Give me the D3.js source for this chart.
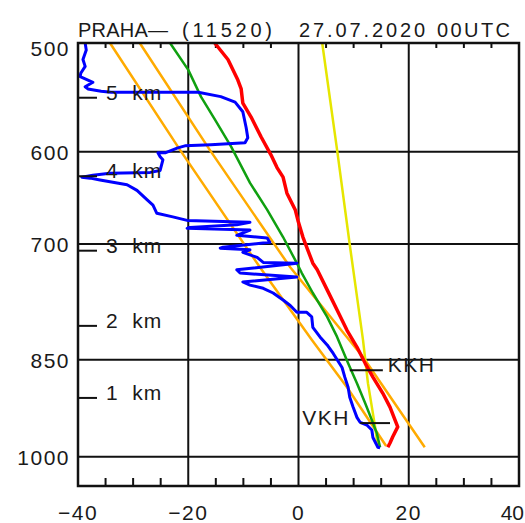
<!DOCTYPE html>
<html>
<head>
<meta charset="utf-8">
<script src="https://cdn.jsdelivr.net/npm/d3@7"></script>
<style>
  html, body { margin: 0; padding: 0; background: #ffffff; }
  svg text { font-family: "Liberation Sans", Arial, sans-serif; fill: #1a1a1a; white-space: pre; }
</style>
</head>
<body>
<svg id="chart" width="525" height="523"></svg>
<script>
// Sounding PRAHA (11520), 27.07.2020 00UTC — pressure (hPa) vs temperature (°C)

const pressureTicks = [500, 600, 700, 850, 1000];
const tempTicks = [-40, -20, 0, 20, 40];
const minorTempTicks = [-35, -30, -25, -15, -10, -5, 5, 10, 15, 25, 30, 35];

// height markers: label and pressure level
const heightLabels = ["1  km", "2  km", "3  km", "4  km", "5  km"];
const heightPressures = [906, 803, 708, 625, 548];

// temperature profile
const tempP = [500, 514, 532, 540, 553, 566, 585, 603, 616, 626, 643, 661, 673, 692, 704, 723, 731, 756, 782, 809, 832, 855, 875, 899, 920, 940, 951, 967, 977, 984];
const tempT = [-15.2, -12.8, -11.0, -10.4, -10.1, -8.6, -6.8, -5.0, -3.9, -2.8, -2.1, -0.6, -0.1, 0.8, 1.5, 2.6, 3.4, 5.2, 7.0, 8.8, 10.6, 12.1, 13.5, 15.3, 16.6, 17.5, 18.0, 17.1, 16.6, 16.2];

// dew point profile
const dewP = [500, 506, 514, 520, 526, 529, 532, 534, 538, 540, 542, 543, 543, 547, 552, 561, 576, 586, 591, 593, 594, 596, 601, 601, 605, 608, 619, 621, 622, 624, 626, 627, 629, 634, 640, 650, 656, 665, 669, 673, 675, 678, 681, 682, 684, 690, 693, 698, 704, 705, 707, 710, 716, 722, 723, 731, 735, 740, 746, 750, 754, 760, 769, 776, 785, 785, 791, 805, 818, 829, 841, 861, 875, 890, 905, 920, 936, 944, 948, 956, 968, 984, 985];
const dewT = [-38.7, -38.5, -39.1, -38.7, -39.5, -39.6, -38.2, -37.3, -38.7, -38.2, -35.8, -34.0, -18.2, -14.1, -11.5, -10.1, -9.5, -9.2, -9.7, -15.9, -20.6, -21.9, -24.2, -25.5, -25.1, -24.6, -25.1, -26.9, -34.2, -37.3, -39.3, -37.8, -36.0, -31.1, -29.3, -27.5, -26.4, -25.7, -22.8, -20.2, -8.8, -11.2, -19.7, -20.2, -8.8, -11.2, -5.7, -5.2, -13.7, -14.2, -8.8, -10.1, -7.5, -6.4, -0.3, -11.2, -10.6, -0.3, -10.1, -8.8, -6.4, -4.6, -2.8, -1.5, -0.3, 1.5, 2.4, 2.6, 3.9, 5.2, 6.3, 7.9, 8.4, 9.0, 9.3, 9.9, 10.6, 11.2, 12.4, 13.3, 13.5, 14.4, 14.8];

// moist (pseudo) adiabat from the surface
const moistP = [500, 523, 547, 569, 595, 632, 661, 692, 723, 735, 760, 791, 818, 855, 884, 914, 940, 961, 984];
const moistT = [-23.3, -20.0, -17.7, -15.1, -12.2, -8.8, -5.7, -2.8, -0.3, 0.6, 2.6, 5.2, 7.0, 9.0, 10.6, 12.1, 13.3, 14.2, 14.8];

// dry adiabats
const dry1P = [500, 598, 728, 822, 890, 982];
const dry1T = [-34.2, -21.5, -7.0, 2.4, 8.8, 15.9];
const dry2P = [500, 598, 728, 846, 984];
const dry2T = [-28.8, -16.1, -1.5, 11.7, 22.9];

// mixing ratio line
const mixP = [500, 598, 701, 822, 884, 951, 984];
const mixT = [4.3, 7.0, 9.3, 11.7, 12.6, 13.9, 14.4];

// condensation levels: label, pressure, temperature span
const levelNames = ["KKH", "VKH"];
const levelP = [865, 945];
const levelT0 = [9.3, 11.2];
const levelT1 = [15.3, 16.6];

const svg = d3.select("#chart");
const plotLeft = 78, plotRight = 519, plotTop = 43, plotBottom = 486;

const x = d3.scaleLinear().domain([-40, 40]).range([plotLeft, plotRight]);
const y = d3.scaleLog().domain([500, 1050]).range([plotTop, plotBottom]);

const zip = (ps, ts) => ps.map((p, i) => ({ p, t: ts[i] }));
const line = d3.line().x(d => x(d.t)).y(d => y(d.p));

const gridColor = "#111";

// grid
const grid = svg.append("g").attr("stroke", gridColor).attr("stroke-width", 2);
grid.selectAll("line.v").data(tempTicks.filter(t => t > -40 && t < 40)).join("line")
  .attr("class", "v")
  .attr("x1", d => x(d)).attr("x2", d => x(d)).attr("y1", plotTop).attr("y2", plotBottom);
grid.selectAll("line.h").data(pressureTicks.filter(p => p > 500)).join("line")
  .attr("class", "h")
  .attr("x1", plotLeft).attr("x2", plotRight).attr("y1", d => y(d)).attr("y2", d => y(d));

// minor temperature ticks along top and bottom
const minor = svg.append("g").attr("stroke", gridColor).attr("stroke-width", 2);
minor.selectAll("line.b").data(minorTempTicks).join("line")
  .attr("class", "b")
  .attr("x1", d => x(d)).attr("x2", d => x(d)).attr("y1", plotBottom).attr("y2", plotBottom - 8);
minor.selectAll("line.t").data(minorTempTicks).join("line")
  .attr("class", "t")
  .attr("x1", d => x(d)).attr("x2", d => x(d)).attr("y1", plotTop).attr("y2", plotTop + 5);

// curves
const curves = [
  { data: zip(dry1P, dry1T), color: "#ffab00", w: 2.5 },
  { data: zip(dry2P, dry2T), color: "#ffab00", w: 2.5 },
  { data: zip(mixP, mixT), color: "#e6e600", w: 2.5 },
  { data: zip(moistP, moistT), color: "#10a010", w: 2.5 },
  { data: zip(dewP, dewT), color: "#0000ff", w: 3 },
  { data: zip(tempP, tempT), color: "#ff0000", w: 3.5 }
];
svg.append("g").selectAll("path").data(curves).join("path")
  .attr("d", d => line(d.data))
  .attr("fill", "none")
  .attr("stroke", d => d.color)
  .attr("stroke-width", d => d.w)
  .attr("stroke-linejoin", "round");

// condensation level markers
const lv = svg.append("g");
lv.selectAll("line").data(levelNames).join("line")
  .attr("x1", (d, i) => x(levelT0[i])).attr("x2", (d, i) => x(levelT1[i]))
  .attr("y1", (d, i) => y(levelP[i])).attr("y2", (d, i) => y(levelP[i]))
  .attr("stroke", gridColor).attr("stroke-width", 2);
lv.selectAll("text").data(levelNames).join("text")
  .attr("x", (d, i) => i === 0 ? x(levelT1[i]) + 5 : x(levelT0[i]) - 58)
  .attr("y", (d, i) => y(levelP[i]) + 2)
  .attr("font-size", 21)
  .attr("letter-spacing", 1.5)
  .text(d => d);

// frame
svg.append("rect")
  .attr("x", plotLeft).attr("y", plotTop)
  .attr("width", plotRight - plotLeft).attr("height", plotBottom - plotTop)
  .attr("fill", "none").attr("stroke", gridColor).attr("stroke-width", 2.5);

// height markers
const hm = svg.append("g");
hm.selectAll("line").data(heightPressures).join("line")
  .attr("x1", plotLeft).attr("x2", plotLeft + 19)
  .attr("y1", d => y(d)).attr("y2", d => y(d))
  .attr("stroke", gridColor).attr("stroke-width", 2);
hm.selectAll("text").data(heightLabels).join("text")
  .attr("x", plotLeft + 28)
  .attr("y", (d, i) => y(heightPressures[i]) + 2)
  .attr("font-size", 21)
  .attr("letter-spacing", 1)
  .text(d => d);

// pressure axis labels
svg.append("g").selectAll("text").data(pressureTicks).join("text")
  .attr("x", 70)
  .attr("y", d => Math.max(y(d) + 8, 56))
  .attr("text-anchor", "end")
  .attr("font-size", 21)
  .attr("letter-spacing", 1.5)
  .text(d => d);

// temperature axis labels (the last one is kept inside the page edge)
svg.append("g").selectAll("text").data(tempTicks).join("text")
  .attr("x", d => d === 40 ? 524 : x(d))
  .attr("y", 520)
  .attr("text-anchor", d => d === 40 ? "end" : "middle")
  .attr("font-size", 21)
  .attr("letter-spacing", d => d === 40 ? 0 : 1.5)
  .text(d => d < 0 ? "\u2212" + Math.abs(d) : String(d));

// title
const title = [
  { s: "PRAHA\u2014", x0: 78, len: 90 },
  { s: "(11520)", x0: 182, len: 90 },
  { s: "27.07.2020", x0: 299, len: 126 },
  { s: "00UTC", x0: 437, len: 73 }
];
svg.append("g").selectAll("text").data(title).join("text")
  .attr("x", d => d.x0)
  .attr("y", 37)
  .attr("font-size", 20)
  .attr("textLength", d => d.len)
  .attr("lengthAdjust", "spacing")
  .text(d => d.s);
</script>
</body>
</html>
